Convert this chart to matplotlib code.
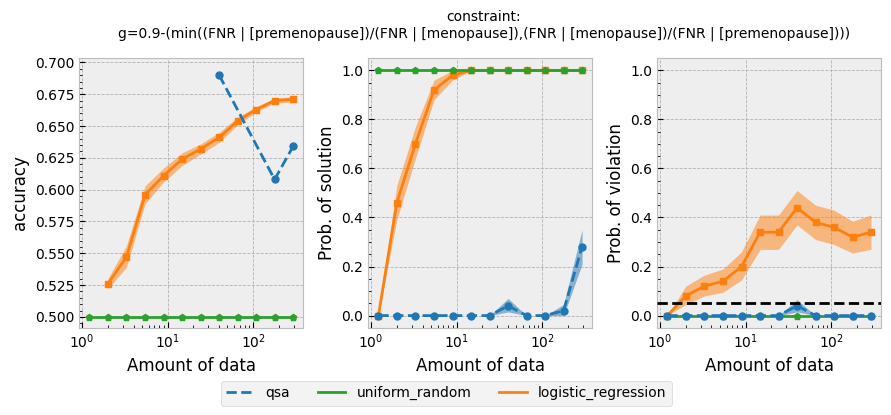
import matplotlib
matplotlib.use('Agg')
import matplotlib.pyplot as plt
import numpy as np
from matplotlib.lines import Line2D

plt.style.use('bmh')

# amount of data (x values)
n_data = [1.22, 2.0, 3.3, 5.45, 8.97, 14.8, 24.3, 40, 65.9, 108, 178, 293]

# accuracy
acc_qsa_x = [40, 178, 293]
acc_qsa = [0.690, 0.608, 0.634]
acc_unif = [0.5] * 12
acc_lr_x = n_data[1:]
acc_lr = [0.526, 0.547, 0.596, 0.611, 0.624, 0.632, 0.641, 0.654, 0.663, 0.670, 0.671]
acc_lr_lo = [0.522, 0.539, 0.589, 0.606, 0.619, 0.628, 0.637, 0.651, 0.661, 0.668, 0.669]
acc_lr_hi = [0.530, 0.556, 0.603, 0.617, 0.629, 0.636, 0.645, 0.657, 0.665, 0.672, 0.673]

# probability of solution
sol_qsa = [0, 0, 0, 0, 0, 0, 0, 0.04, 0, 0, 0.02, 0.28]
sol_qsa_lo = [0, 0, 0, 0, 0, 0, 0, 0.015, 0, 0, 0.0, 0.21]
sol_qsa_hi = [0, 0, 0, 0, 0, 0, 0, 0.07, 0, 0, 0.045, 0.35]
sol_unif = [1.0] * 12
sol_lr = [0, 0.46, 0.70, 0.92, 0.98, 1.0, 1.0, 1.0, 1.0, 1.0, 1.0, 1.0]
sol_lr_lo = [0, 0.39, 0.64, 0.88, 0.96, 1.0, 1.0, 1.0, 1.0, 1.0, 1.0, 1.0]
sol_lr_hi = [0, 0.53, 0.77, 0.96, 1.0, 1.0, 1.0, 1.0, 1.0, 1.0, 1.0, 1.0]

# probability of violation
vio_qsa = [0, 0, 0, 0, 0, 0, 0, 0.04, 0, 0, 0, 0]
vio_qsa_lo = [0, 0, 0, 0, 0, 0, 0, 0.015, 0, 0, 0, 0]
vio_qsa_hi = [0, 0, 0, 0, 0, 0, 0, 0.065, 0, 0, 0, 0]
vio_unif = [0.0] * 12
vio_lr = [0, 0.08, 0.12, 0.14, 0.20, 0.34, 0.34, 0.44, 0.38, 0.36, 0.32, 0.34]
vio_lr_lo = [0, 0.045, 0.08, 0.095, 0.145, 0.27, 0.27, 0.37, 0.31, 0.29, 0.255, 0.27]
vio_lr_hi = [0, 0.12, 0.165, 0.19, 0.26, 0.41, 0.41, 0.51, 0.45, 0.43, 0.385, 0.41]
delta = 0.05

c_qsa = '#1f77b4'
c_unif = '#2ca02c'
c_lr = '#ff7f0e'

fig, axes = plt.subplots(1, 3, figsize=(8.91, 4.15), dpi=100)
fig.subplots_adjust(left=0.089, right=0.989, top=0.86, bottom=0.21, wspace=0.29)


def style_ax(ax):
    ax.set_xscale('log')
    ax.set_facecolor('#eeeeee')
    ax.grid(True, which='major', linestyle='--', linewidth=0.6, color='#b2b2b2')
    ax.minorticks_on()
    ax.tick_params(which='both', direction='in', top=False, right=False, labelsize=10)
    ax.tick_params(which='major', length=4)
    ax.tick_params(which='minor', length=2)
    ax.set_xlabel('Amount of data', fontsize=12)
    for s in ax.spines.values():
        s.set_color('#bcbcbc')


ax = axes[0]
ax.fill_between(acc_lr_x, acc_lr_lo, acc_lr_hi, color=c_lr, alpha=0.5, lw=0, zorder=2)
ax.plot(acc_lr_x, acc_lr, color=c_lr, marker='s', ms=5, lw=2, zorder=2)
ax.plot(n_data, acc_unif, color=c_unif, marker='p', ms=5, lw=2, zorder=2.5)
ax.plot(acc_qsa_x, acc_qsa, color=c_qsa, marker='o', ms=5, lw=2, ls='--', zorder=3)
ax.set_ylim(0.4914, 0.7034)
ax.set_ylabel('accuracy', fontsize=12)
style_ax(ax)

ax = axes[1]
ax.fill_between(n_data, sol_lr_lo, sol_lr_hi, color=c_lr, alpha=0.5, lw=0, zorder=2)
ax.plot(n_data, sol_lr, color=c_lr, marker='s', ms=5, lw=2, zorder=2)
ax.plot(n_data, sol_unif, color=c_unif, marker='p', ms=5, lw=2, zorder=2.5)
ax.fill_between(n_data, sol_qsa_lo, sol_qsa_hi, color=c_qsa, alpha=0.5, lw=0, zorder=3)
ax.plot(n_data, sol_qsa, color=c_qsa, marker='o', ms=5, lw=2, ls='--', zorder=3)
ax.set_ylabel('Prob. of solution', fontsize=12)
style_ax(ax)

ax = axes[2]
ax.fill_between(n_data, vio_lr_lo, vio_lr_hi, color=c_lr, alpha=0.5, lw=0, zorder=2)
ax.plot(n_data, vio_lr, color=c_lr, marker='s', ms=5, lw=2, zorder=2)
ax.plot(n_data, vio_unif, color=c_unif, marker='p', ms=5, lw=2, zorder=2.5)
ax.fill_between(n_data, vio_qsa_lo, vio_qsa_hi, color=c_qsa, alpha=0.5, lw=0, zorder=3)
ax.plot(n_data, vio_qsa, color=c_qsa, marker='o', ms=5, lw=2, ls='--', zorder=3)
ax.axhline(delta, color='black', ls='--', lw=2, zorder=4)
ax.set_ylim(-0.05, 1.05)
ax.set_ylabel('Prob. of violation', fontsize=12)
style_ax(ax)

fig.suptitle('constraint:\n'
             'g=0.9-(min((FNR | [premenopause])/(FNR | [menopause]),(FNR | [menopause])/(FNR | [premenopause])))',
             fontsize=10, x=0.543, y=0.975)

handles = [Line2D([], [], color=c_qsa, lw=2, ls='--'),
           Line2D([], [], color=c_unif, lw=2),
           Line2D([], [], color=c_lr, lw=2)]
fig.legend(handles, ['qsa', 'uniform_random', 'logistic_regression'],
           loc='lower center', ncol=3, fontsize=10, bbox_to_anchor=(0.501, 0.005),
           frameon=True, facecolor='#f0f0f0', edgecolor='#cccccc', columnspacing=2.0)

plt.savefig('out.png', dpi=100)
